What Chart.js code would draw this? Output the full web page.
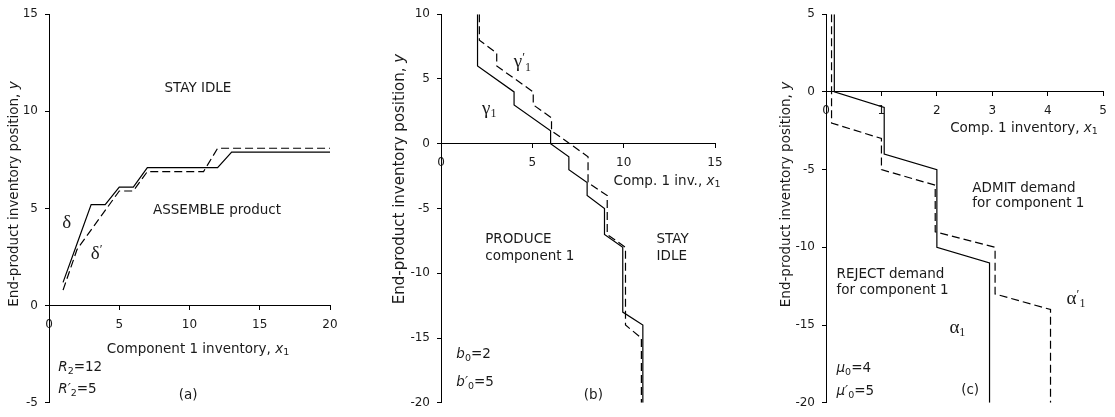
<!DOCTYPE html>
<html>
<head>
<meta charset="utf-8">
<script src="https://cdn.jsdelivr.net/npm/chart.js@4/dist/chart.umd.min.js"></script>
<style>
  html, body { margin: 0; padding: 0; background: #fff; }
  #wrap { position: relative; width: 1115px; height: 417px; overflow: hidden; }
  #wrap canvas { position: absolute; top: 0; }
</style>
</head>
<body>
<div id="wrap">
  <canvas id="cA" width="370" height="417" style="left:0"></canvas>
  <canvas id="cB" width="370" height="417" style="left:370px"></canvas>
  <canvas id="cC" width="375" height="417" style="left:740px"></canvas>
</div>
<script>
// ── data ──
// (a) assemble threshold: δ (R2=12, solid) and δ' (R'2=5, dashed)
const deltaX      = [1, 2, 3, 4, 5, 6, 7, 12, 13, 20];
const deltaY      = [1.2, 3.2, 5.2, 5.2, 6.1, 6.1, 7.1, 7.1, 7.9, 7.9];
const deltaPrimeX = [1, 2, 3, 4, 5, 6, 7, 11, 12, 20];
const deltaPrimeY = [0.8, 2.9, 3.9, 4.9, 5.9, 5.9, 6.9, 6.9, 8.1, 8.1];
const aTicksX = [0, 5, 10, 15, 20];
const aTicksY = [-5, 0, 5, 10, 15];

// (b) produce threshold: γ1 (b0=2, solid) and γ'1 (b'0=5, dashed)
const gammaX      = [2, 2, 4, 4, 6, 6, 7, 7, 8, 8, 8.95, 8.95, 9.95, 9.95, 11.05, 11.05];
const gammaY      = [10, 6, 4, 3, 1, 0, -1, -2, -3, -4, -5, -7, -8, -13, -14, -20];
const gammaPrimeX = [2.1, 2.1, 3.05, 3.05, 5.05, 5.05, 6.05, 6.05, 8.05, 8.05, 9.1, 9.1, 10.1, 10.1, 10.97, 10.97];
const gammaPrimeY = [10, 8, 7, 6, 4, 3, 2, 1, -1, -3, -4, -7, -8, -14, -15, -20];
const bTicksX = [0, 5, 10, 15];
const bTicksY = [-20, -15, -10, -5, 0, 5, 10];

// (c) admission threshold: α1 (μ0=4, solid) and α'1 (μ'0=5, dashed)
const alphaX      = [0.15, 0.15, 1.05, 1.05, 2, 2, 2.95, 2.95];
const alphaY      = [5, 0, -1, -4, -5, -10, -11, -20];
const alphaPrimeX = [0.1, 0.1, 1, 1, 1.97, 1.97, 3.05, 3.05, 4.05, 4.05];
const alphaPrimeY = [5, -2, -3, -5, -6, -9, -10, -13, -14, -20];
const cTicksX = [0, 1, 2, 3, 4, 5];
const cTicksY = [-20, -15, -10, -5, 0, 5];

// ── styling ──
const INK = '#000';
const TXT = '#1a1a1a';
const SANS = '"DejaVu Sans", Verdana, sans-serif';
const SERIF = '"Liberation Serif", "Times New Roman", serif';
const FS = 13.5;

// rich text pieces
const T   = (t, s) => ({ t, f: `${s || FS}px ${SANS}` });
const It  = (t, s) => ({ t, f: `italic ${s || FS}px ${SANS}` });
const Sub = (t) => ({ t, f: `9.5px ${SANS}`, dy: 4 });
const Gk  = (t) => ({ t, f: `19px ${SERIF}` });
const GkSub = (t) => ({ t, f: `12px ${SERIF}`, dy: 5 });
const GkSup = (t) => ({ t, f: `13px ${SERIF}`, dy: -5 });

const yTitle = (s) => [T('End-product inventory position, ', s), It('y', s)];

// draws text notes, in data units (x,y) or canvas pixels (px,py)
function notesPlugin(items) {
  return {
    id: 'notes',
    afterDraw(chart) {
      const { ctx } = chart;
      const sx = chart.scales.x, sy = chart.scales.y;
      ctx.save();
      ctx.fillStyle = TXT;
      ctx.textBaseline = 'middle';
      ctx.textAlign = 'left';
      items.forEach(it => {
        const px = it.px != null ? it.px : sx.getPixelForValue(it.x);
        const py = it.py != null ? it.py : sy.getPixelForValue(it.y);
        ctx.save();
        ctx.translate(px, py);
        if (it.rot) ctx.rotate(it.rot);
        let w = 0;
        const ws = it.parts.map(p => { ctx.font = p.f; const m = ctx.measureText(p.t).width; w += m; return m; });
        let cx = it.align === 'left' ? 0 : -w / 2;
        it.parts.forEach((p, i) => { ctx.font = p.f; ctx.fillText(p.t, cx, p.dy || 0); cx += ws[i]; });
        ctx.restore();
      });
      ctx.restore();
    }
  };
}

const pts = (xs, ys) => xs.map((x, i) => ({ x, y: ys[i] }));
const line = (xs, ys, dashed) => ({
  data: pts(xs, ys), showLine: true, borderColor: INK, borderWidth: 1.2,
  borderDash: dashed ? [8, 4] : [], pointRadius: 0, fill: false, tension: 0
});

function axis(ticks, pos, pad) {
  return {
    type: 'linear', position: pos,
    min: ticks[0], max: ticks[ticks.length - 1],
    afterBuildTicks: s => { s.ticks = ticks.map(v => ({ value: v })); },
    grid: { drawOnChartArea: false, drawTicks: true, tickLength: 4, color: INK, lineWidth: 1 },
    border: { display: true, color: INK, width: 1 },
    ticks: { color: TXT, padding: pad, font: { family: SANS, size: 12 } }
  };
}

// y axis sits on x=0, the left edge of the plot: fixed-width left scale
function panel(id, datasets, tx, ty, yAxisAt, padding, items) {
  const ys = axis(ty, 'left', 7);
  ys.afterFit = s => { s.width = yAxisAt; };
  return new Chart(document.getElementById(id), {
    type: 'scatter',
    data: { datasets },
    options: {
      responsive: false, animation: false,
      layout: { padding },
      plugins: { legend: { display: false }, tooltip: { enabled: false } },
      scales: {
        x: axis(tx, { y: 0 }, 8),
        y: ys
      }
    },
    plugins: [notesPlugin(items)]
  });
}

// ── (a) ──
panel('cA',
  [line(deltaX, deltaY, false), line(deltaPrimeX, deltaPrimeY, true)],
  aTicksX, aTicksY, 49, { left: 0, right: 40, top: 13, bottom: 13 },
  [
    { px: 14, py: 194, rot: -Math.PI / 2, parts: yTitle() },
    { px: 198, py: 349, parts: [T('Component 1 inventory, '), It('x'), Sub('1')] },
    { x: 10.6, y: 11.2, parts: [T('STAY IDLE')] },
    { x: 11.96, y: 4.9, parts: [T('ASSEMBLE product')] },
    { x: 1.26, y: 4.25, parts: [Gk('δ')] },
    { x: 3.39, y: 2.65, parts: [Gk('δ'), GkSup('\u02B9')] },
    { x: 0.66, y: -3.2, align: 'left', parts: [It('R'), Sub('2'), T('=12')] },
    { x: 0.66, y: -4.3, align: 'left', parts: [It('R\u2032'), Sub('2'), T('=5')] },
    { x: 9.9, y: -4.64, parts: [T('(a)')] }
  ]);

// ── (b) ──
panel('cB',
  [line(gammaX, gammaY, false), line(gammaPrimeX, gammaPrimeY, true)],
  bTicksX, bTicksY, 71, { left: 0, right: 25, top: 13, bottom: 13 },
  [
    { px: 30.5, py: 179, rot: -Math.PI / 2, parts: yTitle(15) },
    { px: 297, py: 181, parts: [T('Comp. 1 inv., '), It('x'), Sub('1')] },
    { x: 4.46, y: 6.28, parts: [Gk('γ'), GkSup('\u02B9'), GkSub('1')] },
    { x: 2.64, y: 2.69, parts: [Gk('γ'), GkSub('1')] },
    { x: 2.42, y: -7.38, align: 'left', parts: [T('PRODUCE')] },
    { x: 2.42, y: -8.72, align: 'left', parts: [T('component 1')] },
    { x: 11.8, y: -7.38, align: 'left', parts: [T('STAY')] },
    { x: 11.8, y: -8.72, align: 'left', parts: [T('IDLE')] },
    { x: 0.84, y: -16.3, align: 'left', parts: [It('b'), Sub('0'), T('=2')] },
    { x: 0.84, y: -18.4, align: 'left', parts: [It('b\u2032'), Sub('0'), T('=5')] },
    { x: 8.34, y: -19.45, parts: [T('(b)')] }
  ]);

// ── (c) ──
panel('cC',
  [line(alphaX, alphaY, false), line(alphaPrimeX, alphaPrimeY, true)],
  cTicksX, cTicksY, 86, { left: 0, right: 9, top: 13, bottom: 13 },
  [
    { px: 46.5, py: 194.5, rot: -Math.PI / 2, parts: yTitle() },
    { px: 284, py: 128, parts: [T('Comp. 1 inventory, '), It('x'), Sub('1')] },
    { x: 2.64, y: -6.19, align: 'left', parts: [T('ADMIT demand')] },
    { x: 2.64, y: -7.19, align: 'left', parts: [T('for component 1')] },
    { x: 0.19, y: -11.77, align: 'left', parts: [T('REJECT demand')] },
    { x: 0.19, y: -12.78, align: 'left', parts: [T('for component 1')] },
    { x: 2.37, y: -15.18, parts: [Gk('α'), GkSub('1')] },
    { x: 4.51, y: -13.33, parts: [Gk('α'), GkSup('\u02B9'), GkSub('1')] },
    { x: 0.19, y: -17.8, align: 'left', parts: [It('μ'), Sub('0'), T('=4')] },
    { x: 0.19, y: -19.3, align: 'left', parts: [It('μ\u2032'), Sub('0'), T('=5')] },
    { x: 2.6, y: -19.2, parts: [T('(c)')] }
  ]);
</script>
</body>
</html>
